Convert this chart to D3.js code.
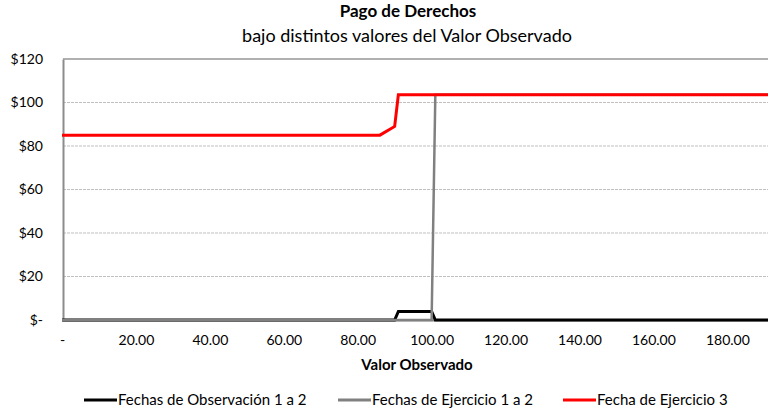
<!DOCTYPE html>
<html>
<head>
<meta charset="utf-8">
<script src="https://cdn.jsdelivr.net/npm/d3@7"></script>
<style>
  body { margin: 0; background: #fff; }
  svg { font-family: Lato, "Open Sans", sans-serif; }
</style>
</head>
<body>
<div id="chart"></div>
<script>
// valores (puntos de quiebre de cada serie)
const obsX = [0, 90, 91, 100, 101, 191];
const obsY = [0, 0, 3.9, 3.9, 0, 0];
const ejeX = [0, 100, 101, 191];
const ejeY = [0, 0, 103.6, 103.6];
const ej3X = [0, 86, 90, 91, 191];
const ej3Y = [85, 85, 89, 103.6, 103.6];

const xTicks = [0, 20, 40, 60, 80, 100, 120, 140, 160, 180];
const yTicks = [0, 20, 40, 60, 80, 100, 120];

const seriesNames = ["Fechas de Observación 1 a 2", "Fechas de Ejercicio 1 a 2", "Fecha de Ejercicio 3"];
const seriesColors = ["#000000", "#808080", "#ff0000"];

const width = 768, height = 411;
const margin = { top: 59, left: 63, bottom: 91, right: 0 };

const svg = d3.select("#chart").append("svg")
    .attr("width", width)
    .attr("height", height);

const x = d3.scaleLinear().domain([0, 191]).range([margin.left - 1, width - margin.right]);
const y = d3.scaleLinear().domain([0, 120]).range([height - margin.bottom, margin.top]);

// grid
svg.append("g")
    .selectAll("line")
    .data(yTicks.filter(d => d > 0 && d < 120))
    .enter().append("line")
    .attr("x1", margin.left).attr("x2", width)
    .attr("y1", d => y(d)).attr("y2", d => y(d))
    .attr("stroke", "#bfbfbf")
    .attr("stroke-dasharray", "3,1");

// top border
svg.append("line")
    .attr("x1", margin.left).attr("x2", width)
    .attr("y1", y(120)).attr("y2", y(120))
    .attr("stroke", "#969696").attr("stroke-width", 1.5);

// y axis
const yAxis = svg.append("g")
    .attr("transform", `translate(${margin.left},0)`)
    .call(d3.axisLeft(y).tickValues(yTicks).tickSize(0).tickPadding(20)
        .tickFormat(d => d === 0 ? "$-" : "$" + d));
yAxis.select(".domain").attr("stroke", "#8c8c8c").attr("stroke-width", 2);
yAxis.selectAll("text").attr("font-size", 14).attr("fill", "#000").attr("font-family", "Lato");

// x axis
const xAxis = svg.append("g")
    .attr("transform", `translate(0,${y(0)})`)
    .call(d3.axisBottom(x).tickValues(xTicks).tickSize(0).tickPadding(15)
        .tickFormat(d => d === 0 ? "-" : d3.format(".2f")(d)));
xAxis.select(".domain").attr("stroke", "#8c8c8c").attr("stroke-width", 2);
xAxis.selectAll("text").attr("font-size", 14).attr("fill", "#000").attr("font-family", "Lato");

// lines
const line = d3.line().x(d => x(d[0])).y(d => y(d[1]));
const series = [
    d3.zip(obsX, obsY),
    d3.zip(ejeX, ejeY),
    d3.zip(ej3X, ej3Y)
];
series.forEach((s, i) => {
    svg.append("path")
        .datum(s)
        .attr("d", line)
        .attr("fill", "none")
        .attr("stroke", seriesColors[i])
        .attr("stroke-width", i === 1 ? 2.5 : 3);
});

// titles
svg.append("text")
    .attr("x", 408).attr("y", 17)
    .attr("text-anchor", "middle")
    .attr("font-size", 17).attr("font-weight", "bold")
    .text("Pago de Derechos");
svg.append("text")
    .attr("x", 407).attr("y", 42)
    .attr("text-anchor", "middle")
    .attr("font-size", 18)
    .text("bajo distintos valores del Valor Observado");
svg.append("text")
    .attr("x", 417).attr("y", 370)
    .attr("text-anchor", "middle")
    .attr("font-size", 15).attr("font-weight", "bold")
    .text("Valor Observado");

// legend
const legendX = [84, 338, 563];
const legend = svg.append("g");
seriesNames.forEach((name, i) => {
    const g = legend.append("g").attr("transform", `translate(${legendX[i]},400)`);
    g.append("line").attr("x1", 0).attr("x2", 33)
        .attr("stroke", seriesColors[i]).attr("stroke-width", 3);
    g.append("text").attr("x", 34).attr("y", 5)
        .attr("font-size", 15)
        .text(name);
});
</script>
</body>
</html>
